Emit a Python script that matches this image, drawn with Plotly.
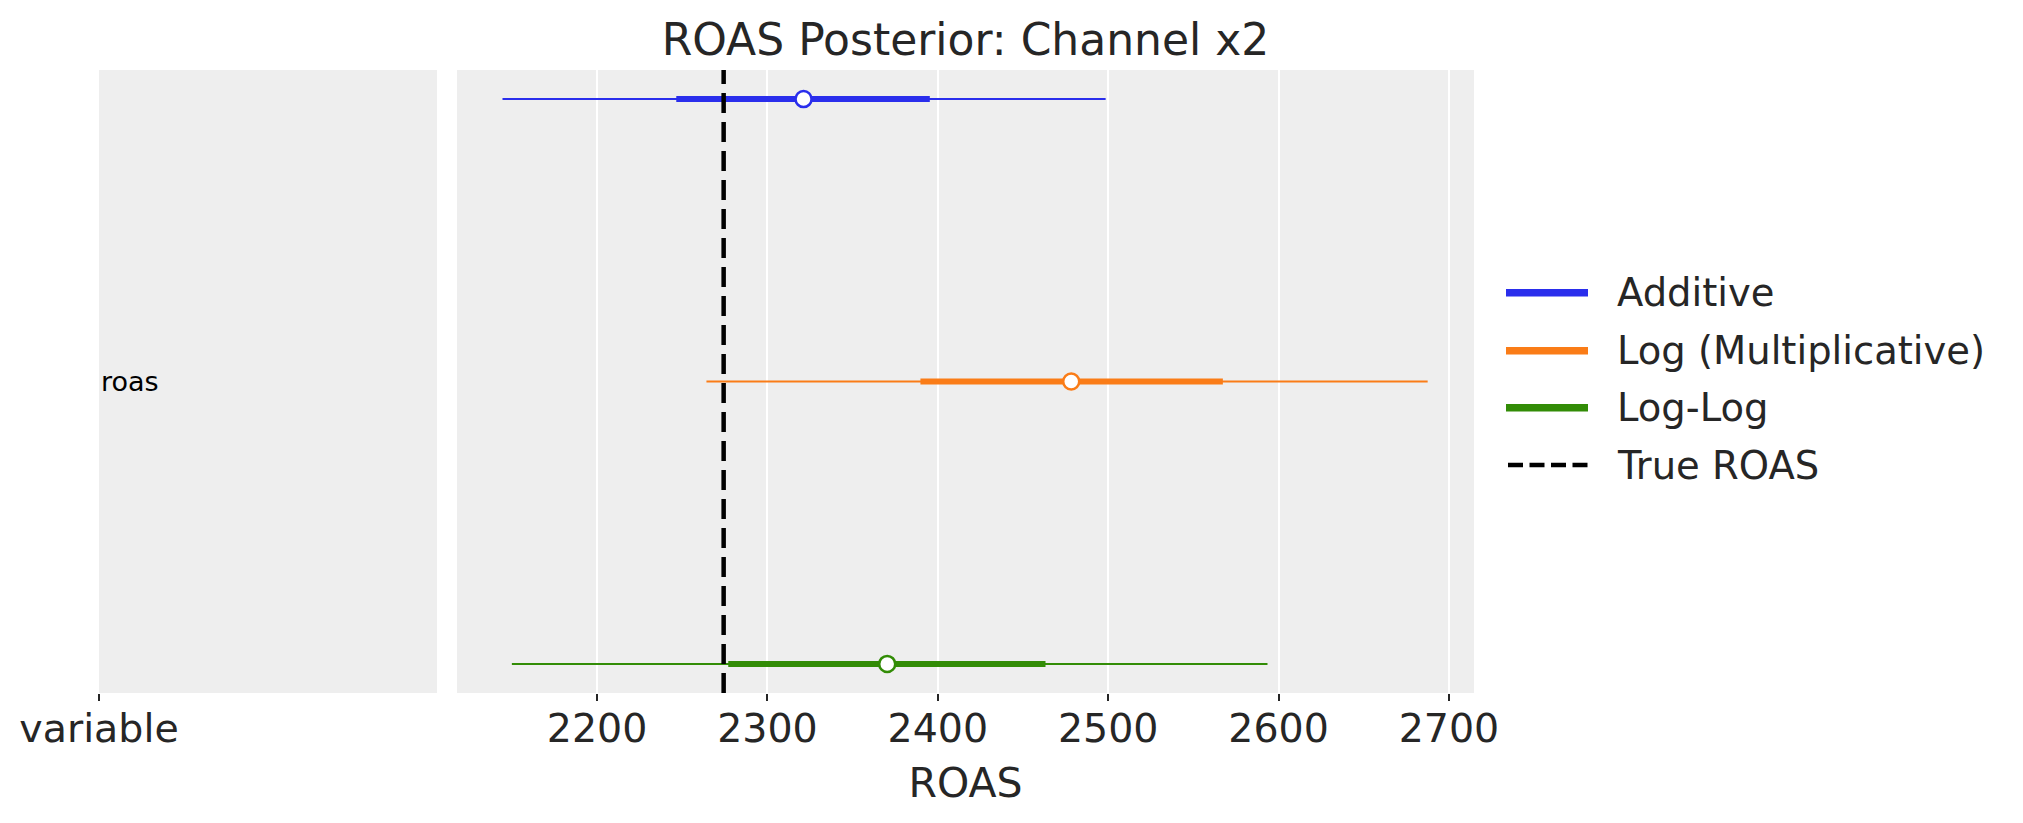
import plotly.graph_objects as go

# ---------------- data ----------------
model_names = ["Additive", "Log (Multiplicative)", "Log-Log"]
model_colors = ["#2a2eec", "#fa7c17", "#328c06"]
hdi94_low = [2144.5, 2264.2, 2150.0]
hdi94_high = [2498.5, 2687.5, 2593.5]
hdi50_low = [2246.5, 2389.8, 2277.0]
hdi50_high = [2395.3, 2567.3, 2463.2]
point_est = [2321.2, 2478.3, 2370.3]
true_roas = [2274.3]
true_label = ["True ROAS"]
x_ticks = [2200, 2300, 2400, 2500, 2600, 2700]
var_label = ["roas"]
left_tick_text = ["variable"]

# ---------------- styling ----------------
FONT = "DejaVu Sans"
TXT = "#262626"
BG = "#eeeeee"
W, H = 2023, 823
ML, MR, MT, MB = 99, 549, 70, 130
PW = W - ML - MR
PH = H - MT - MB


def px_x(p):
    return (p - ML) / PW


def px_y(p):
    return (H - MB - p) / PH


fig = go.Figure()

# empty trace so that the left (label) panel is drawn
fig.add_trace(go.Scatter(x=[None], y=[None], xaxis="x", yaxis="y",
                         showlegend=False, hoverinfo="skip"))

for i, name in enumerate(model_names):
    c = model_colors[i]
    fig.add_trace(go.Scatter(x=[hdi94_low[i], hdi94_high[i]], y=[name, name],
                             mode="lines", line=dict(color=c, width=2),
                             xaxis="x2", yaxis="y2", showlegend=False, name=name))
    fig.add_trace(go.Scatter(x=[hdi50_low[i], hdi50_high[i]], y=[name, name],
                             mode="lines", line=dict(color=c, width=6),
                             xaxis="x2", yaxis="y2", showlegend=False, name=name))
for i, name in enumerate(model_names):
    c = model_colors[i]
    fig.add_trace(go.Scatter(x=[point_est[i]], y=[name], mode="markers",
                             marker=dict(symbol="circle", size=16, color="white",
                                         line=dict(color=c, width=2.5)),
                             xaxis="x2", yaxis="y2", showlegend=False, name=name))

shapes = []
annotations = []

# true ROAS reference line
shapes.append(dict(type="line", xref="x2", yref="y2 domain",
                   x0=true_roas[0], x1=true_roas[0], y0=0, y1=1,
                   line=dict(color="black", width=4.5, dash="20px,9px"),
                   layer="above"))

# variable label inside left panel
annotations.append(dict(text=var_label[0], xref="x domain", yref="y domain",
                        x=0, y=0.5, xanchor="left", yanchor="middle",
                        showarrow=False, font=dict(family=FONT, size=27, color="black")))

# manual legend
leg_rows = [292.7, 350.7, 407.7, 465.0]
for i, name in enumerate(model_names):
    yy = px_y(leg_rows[i])
    shapes.append(dict(type="line", xref="paper", yref="paper",
                       x0=px_x(1506), x1=px_x(1588), y0=yy, y1=yy,
                       line=dict(color=model_colors[i], width=7.5)))
    annotations.append(dict(text=name, xref="paper", yref="paper",
                            x=px_x(1615), y=yy, xanchor="left", yanchor="middle",
                            showarrow=False, font=dict(family=FONT, size=38.5, color=TXT)))
yy = px_y(leg_rows[3])
shapes.append(dict(type="line", xref="paper", yref="paper",
                   x0=px_x(1508), x1=px_x(1588), y0=yy, y1=yy,
                   line=dict(color="black", width=4.5, dash="15px,6.5px")))
annotations.append(dict(text=true_label[0], xref="paper", yref="paper",
                        x=px_x(1615), y=yy, xanchor="left", yanchor="middle",
                        showarrow=False, font=dict(family=FONT, size=38.5, color=TXT)))

rows_bottom_up = list(reversed(model_names))

fig.update_layout(
    width=W, height=H,
    margin=dict(l=ML, r=MR, t=MT, b=MB),
    paper_bgcolor="white", plot_bgcolor=BG,
    font=dict(family=FONT, color=TXT),
    showlegend=False,
    title=dict(text="ROAS Posterior: Channel x2", xref="container", yref="container",
               x=965.5 / W, y=1 - 40 / H, xanchor="center", yanchor="middle",
               font=dict(family=FONT, size=44, color=TXT)),
    xaxis=dict(domain=[0, (437 - ML) / PW], range=[0, 1], tickvals=[0],
               ticktext=left_tick_text, showgrid=False, zeroline=False,
               ticks="outside", ticklen=7, tickwidth=2, tickcolor=TXT,
               tickfont=dict(family=FONT, size=39.5, color=TXT), showline=False,
               ticklabelstandoff=-6, fixedrange=True),
    yaxis=dict(domain=[0, 1], range=[0, 1], showticklabels=False, showgrid=False,
               zeroline=False, ticks="", showline=False),
    xaxis2=dict(domain=[(457 - ML) / PW, 1], range=[2117.8, 2714.7],
                tickvals=x_ticks, showgrid=True, gridcolor="white", gridwidth=2,
                zeroline=False, ticks="outside", ticklen=7, tickwidth=2, tickcolor=TXT,
                tickfont=dict(family=FONT, size=39.5, color=TXT), showline=False,
                ticklabelstandoff=-6, anchor="y2",
                title=dict(text="ROAS", font=dict(family=FONT, size=41, color=TXT),
                           standoff=17)),
    yaxis2=dict(domain=[0, 1], anchor="x2", type="category",
                categoryorder="array", categoryarray=rows_bottom_up,
                range=[-0.103, 2.103], showticklabels=False, showgrid=False,
                zeroline=False, ticks="", showline=False),
    shapes=shapes,
    annotations=annotations,
)

fig.write_html("out.html", config={"displayModeBar": False},
               post_script="document.body.style.margin='0';")
